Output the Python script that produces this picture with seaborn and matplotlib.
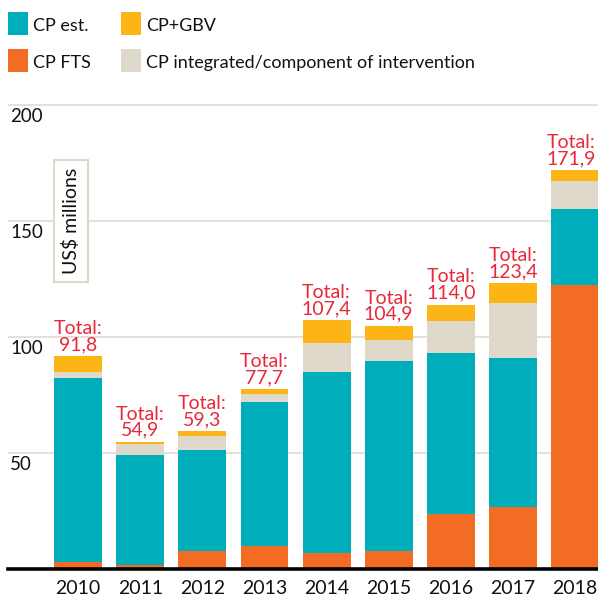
"""
Child protection funding 2010-2018, stacked by source (US$ millions)
"""
import numpy as np
import pandas as pd
import matplotlib
matplotlib.use("Agg")
import matplotlib.pyplot as plt
from matplotlib.patches import Rectangle
import seaborn as sns

# -- Data ----------------------------------------------------------------------
YEARS      = ["2010", "2011", "2012", "2013", "2014", "2015", "2016", "2017", "2018"]
CP_FTS     = [3.1, 1.6, 7.8, 9.9, 7.0, 7.9, 23.8, 26.7, 122.4]
CP_EST     = [79.2, 47.5, 43.5, 62.1, 77.9, 81.8, 69.3, 64.2, 32.8]
CP_INTEG   = [2.6, 4.8, 6.0, 3.4, 12.5, 9.0, 13.8, 23.8, 12.0]
CP_GBV     = [6.9, 1.0, 2.0, 2.3, 10.0, 6.2, 7.1, 8.7, 4.7]
TOTALS     = ["91,8", "54,9", "59,3", "77,7", "107,4", "104,9", "114,0", "123,4", "171,9"]
Y_TICKS    = [50, 100, 150, 200]

# -- Style ---------------------------------------------------------------------
C_EST   = "#00ADBB"
C_FTS   = "#F26C23"
C_GBV   = "#FDB515"
C_INTEG = "#DED9CA"
C_GRID  = "#E3DED2"
C_RED   = "#E8283A"
TXT     = "#111111"

sns.set_theme(style="white")
plt.rcParams["font.family"] = ["Lato", "DejaVu Sans"]

W, H = 598, 603
fig = plt.figure(figsize=(W / 100, H / 100), dpi=100, facecolor="white")

# axes placement in pixels
px_per_unit = 2.32
y_top = 202
ax_left, ax_bottom_px = 8, 569
ax_h = y_top * px_per_unit
ax = fig.add_axes([ax_left / W, (H - ax_bottom_px) / H, (W - ax_left) / W, ax_h / H])

df = pd.DataFrame({"year": YEARS, "fts": CP_FTS, "est": CP_EST,
                   "integ": CP_INTEG, "gbv": CP_GBV})
df["l1"] = df["fts"]
df["l2"] = df["l1"] + df["est"]
df["l3"] = df["l2"] + df["integ"]
df["l4"] = df["l3"] + df["gbv"]

for ycol, col in [("l4", C_GBV), ("l3", C_INTEG), ("l2", C_EST), ("l1", C_FTS)]:
    sns.barplot(data=df, x="year", y=ycol, order=YEARS, color=col, saturation=1,
                width=0.77, linewidth=0, errorbar=None, ax=ax, zorder=2)

for v in Y_TICKS:
    ax.axhline(v, color=C_GRID, linewidth=1.3, zorder=0)
    ax.text(0.004, v - 1.5, str(v), transform=ax.get_yaxis_transform(),
            ha="left", va="top", fontsize=13.5, color=TXT)

ax.set_ylim(0, y_top)
ax.set_xlim(-1.13, 8.37)
ax.set_yticks([])
ax.set_xlabel("")
ax.set_ylabel("")
for s in ["top", "right", "left"]:
    ax.spines[s].set_visible(False)
ax.spines["bottom"].set_color("black")
ax.spines["bottom"].set_linewidth(2.6)
ax.spines["bottom"].set_zorder(5)
ax.tick_params(axis="x", length=0, pad=8, labelsize=14, labelcolor=TXT)

# total labels above each bar (last one nudged left so it stays inside)
n = len(YEARS)
for i, (top, lab) in enumerate(zip(df["l4"], TOTALS)):
    dx = -2.5 if i == n - 1 else 0
    ax.annotate(f"Total:\n{lab}", (i, top), xytext=(dx, 2), textcoords="offset points",
                ha="center", va="bottom", fontsize=14, color=C_RED,
                linespacing=0.95, zorder=6)

# unit label box
ax.text(-0.12, 150, "US$ millions", rotation=90, ha="center", va="center",
        fontsize=14, color=TXT, zorder=6,
        bbox=dict(boxstyle="square,pad=0.4", facecolor="white",
                  edgecolor=C_INTEG, linewidth=1.5))

# legend (manual, two columns)
legend_items = [("CP est.", C_EST, 8, 12), ("CP FTS", C_FTS, 8, 49),
                ("CP+GBV", C_GBV, 121, 12),
                ("CP integrated/component of intervention", C_INTEG, 121, 49)]
for label, col, x0, y0 in legend_items:
    fig.add_artist(Rectangle((x0 / W, 1 - (y0 + 23) / H), 20 / W, 23 / H,
                             transform=fig.transFigure, facecolor=col,
                             edgecolor="none"))
    fig.text((x0 + 25) / W, 1 - (y0 + 19) / H, label, ha="left", va="baseline",
             fontsize=13, color=TXT)

fig.savefig("out.png", dpi=100, facecolor="white")
